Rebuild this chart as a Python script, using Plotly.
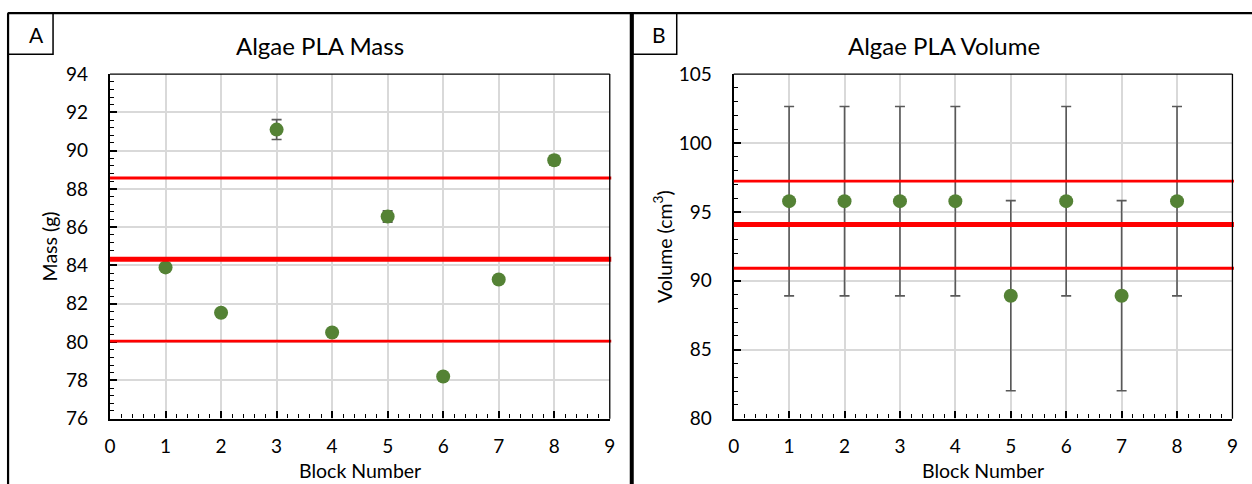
import plotly.graph_objects as go

# ---- data ----
blocks = [1, 2, 3, 4, 5, 6, 7, 8]
mass = [83.9, 81.53, 91.1, 80.5, 86.56, 78.2, 83.27, 89.5]
mass_err = [0.05, 0.05, 0.52, 0.1, 0.3, 0.05, 0.1, 0.25]
mass_lines = [88.57, 84.32, 80.05]          # upper, mean, lower
volume = [95.78, 95.78, 95.78, 95.78, 88.92, 95.78, 88.92, 95.78]
volume_err = [6.87, 6.87, 6.87, 6.87, 6.9, 6.87, 6.9, 6.87]
volume_lines = [97.24, 94.09, 90.91]
x_ticks = list(range(0, 10))
mass_ticks = list(range(76, 95, 2))
volume_ticks = list(range(80, 106, 5))

W, H = 1262, 500
FONT = "Lato"
GREEN = "#548235"
ERR = "#595959"
GRID = "#d9d9d9"
TICK_SIZE = 19
AX_TITLE_SIZE = 19.5
TITLE_SIZE = 24

# map target screen pixel -> figure pixel (page body margin + capture scaling)
def fx(t):
    return (t + 3) / 0.991 - 8

def fy(t):
    return (t - 2) / 0.958 - 8

def px_x(t):
    return fx(t) / W

def px_y(t):
    return 1 - fy(t) / H

fig = go.Figure()

fig.add_trace(go.Scatter(
    x=blocks, y=mass, mode="markers", xaxis="x", yaxis="y",
    marker=dict(size=14, color=GREEN),
    error_y=dict(type="data", array=mass_err, color=ERR, thickness=1.6, width=5),
    showlegend=False))
fig.add_trace(go.Scatter(
    x=blocks, y=volume, mode="markers", xaxis="x2", yaxis="y2",
    marker=dict(size=14, color=GREEN),
    error_y=dict(type="data", array=volume_err, color=ERR, thickness=1.6, width=5),
    showlegend=False))

ydom = [px_y(418), px_y(72)]
common_x = dict(range=[0, 9], tickvals=x_ticks, showgrid=True, gridcolor=GRID, gridwidth=1.5,
                ticks="inside", ticklen=7, tickwidth=1.5, tickcolor="black",
                minor=dict(ticks="inside", ticklen=4, dtick=0.2, tickcolor="black", tickwidth=1.2, showgrid=False),
                showline=True, linecolor="black", linewidth=2.4, zeroline=False,
                tickfont=dict(family=FONT, size=TICK_SIZE, color="black"), ticklabelstandoff=9, fixedrange=True)
common_y = dict(showgrid=True, gridcolor=GRID, gridwidth=1.5,
                ticks="inside", ticklen=7, tickwidth=1.5, tickcolor="black",
                showline=True, linecolor="black", linewidth=2.4, zeroline=False,
                tickfont=dict(family=FONT, size=TICK_SIZE, color="black"), ticklabelstandoff=16, fixedrange=True)

fig.update_layout(
    width=W, height=H, margin=dict(l=0, r=0, t=0, b=0),
    paper_bgcolor="white", plot_bgcolor="white",
    font=dict(family=FONT, color="black"),
    xaxis=dict(domain=[px_x(109), px_x(609)], anchor="y", **common_x),
    yaxis=dict(domain=ydom, anchor="x", range=[76, 94], tickvals=mass_ticks,
               minor=dict(ticks="inside", ticklen=4, dtick=0.4, tickcolor="black", tickwidth=1.2, showgrid=False),
               **common_y),
    xaxis2=dict(domain=[px_x(733), px_x(1232)], anchor="y2", **common_x),
    yaxis2=dict(domain=ydom, anchor="x2", range=[80, 105], tickvals=volume_ticks,
                minor=dict(ticks="inside", ticklen=4, dtick=1, tickcolor="black", tickwidth=1.2, showgrid=False),
                **common_y),
)

shapes = []
# reference lines
for ax, vals in (("", mass_lines), ("2", volume_lines)):
    for i, v in enumerate(vals):
        shapes.append(dict(type="line", xref=f"x{ax} domain", yref=f"y{ax}", x0=0, x1=1.003, y0=v, y1=v,
                           line=dict(color="#ff0000", width=5 if i == 1 else 2.8), layer="above"))
# plot-area top/right borders
for ax in ("", "2"):
    shapes.append(dict(type="line", xref=f"x{ax} domain", yref=f"y{ax} domain", x0=0, x1=1, y0=1, y1=1,
                       line=dict(color="black", width=1.3)))
    shapes.append(dict(type="line", xref=f"x{ax} domain", yref=f"y{ax} domain", x0=1, x1=1, y0=0, y1=1,
                       line=dict(color="black", width=1.3)))
# outer frames
top_y = 1 - 1.2 / H
shapes.append(dict(type="line", xref="paper", yref="paper", x0=px_x(7), x1=1, y0=top_y, y1=top_y,
                   line=dict(color="black", width=2.2)))
shapes.append(dict(type="line", xref="paper", yref="paper", x0=px_x(7), x1=px_x(7), y0=0, y1=top_y,
                   line=dict(color="black", width=2.2)))
shapes.append(dict(type="line", xref="paper", yref="paper", x0=px_x(631), x1=px_x(631), y0=0, y1=top_y,
                   line=dict(color="black", width=4)))
# panel label boxes
for x0, x1 in ((7, 52), (632, 676)):
    shapes.append(dict(type="rect", xref="paper", yref="paper", x0=px_x(x0), x1=px_x(x1), y0=px_y(52), y1=top_y,
                       line=dict(color="black", width=1.5), fillcolor="rgba(0,0,0,0)"))
fig.update_layout(shapes=shapes)

ann = []
def label(text, x, y, size, angle=0):
    ann.append(dict(text=text, x=px_x(x), y=px_y(y), xref="paper", yref="paper", showarrow=False,
                    font=dict(family=FONT, size=size, color="black"), textangle=angle,
                    xanchor="center", yanchor="middle"))

label("A", 35, 32, 21)
label("B", 658, 32, 21)
label("Algae PLA Mass", 319, 43, TITLE_SIZE)
label("Algae PLA Volume", 943, 43, TITLE_SIZE)
label("Block Number", 359, 470, AX_TITLE_SIZE)
label("Block Number", 982, 470, AX_TITLE_SIZE)
label("Mass (g)", 48, 245, AX_TITLE_SIZE, -90)
label("Volume (cm<sup>3</sup>)", 662, 245, AX_TITLE_SIZE, -90)
fig.update_layout(annotations=ann)

fig.write_html("out.html")
